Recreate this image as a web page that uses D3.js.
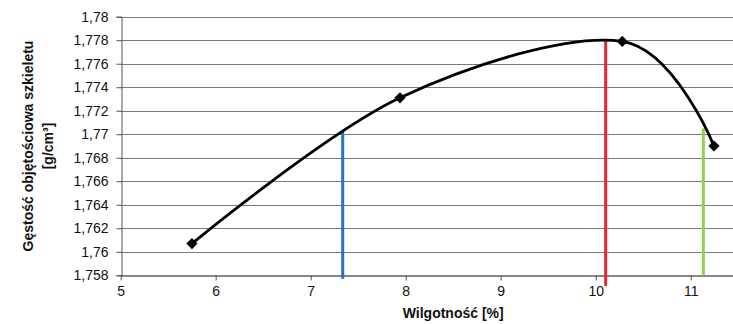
<!DOCTYPE html>
<html><head><meta charset="utf-8">
<script src="https://cdn.jsdelivr.net/npm/d3@7"></script>
<style>body{margin:0;background:#fff}svg{display:block}text{font-family:"Liberation Sans",Arial,sans-serif}</style>
</head><body>
<svg id="c" width="733" height="324"></svg>
<script>
// data
const moisture = [5.75, 7.94, 10.28, 11.245];
const density = [1.7607, 1.7731, 1.7779, 1.7690];
const xTicks = [5, 6, 7, 8, 9, 10, 11];
const yTicks = [1.758, 1.76, 1.762, 1.764, 1.766, 1.768, 1.77, 1.772, 1.774, 1.776, 1.778, 1.78];
const markerLines = [
  {name: "blue", x: 7.337, y0: 1.7577, y1: 1.7702, color: "#2a72c0"},
  {name: "red", x: 10.105, y0: 1.7571, y1: 1.7780, color: "#e8252d"},
  {name: "green", x: 11.133, y0: 1.75797, y1: 1.7705, color: "#92d050"}
];
const xTitle = "Wilgotność [%]";
const yTitle = ["Gęstość objętościowa szkieletu", "[g/cm³]"];

const W = 733, H = 324;
const svg = d3.select("#c");
// plot area extends beyond the cropped right edge (x axis runs to 12)
const x = d3.scaleLinear().domain([5, 12]).range([120.7, 785.7]);
const y = d3.scaleLinear().domain([1.758, 1.78]).range([275.3, 16.7]);
const fmt = v => d3.format("")(+v.toFixed(3)).replace(".", ",");
const FONT = '"Liberation Sans",Arial,sans-serif';

// gridlines
svg.append("g").selectAll("line").data(yTicks.slice(1)).join("line")
  .attr("x1", x(5)).attr("x2", x(12))
  .attr("y1", d => Math.round(y(d)) + 0.5).attr("y2", d => Math.round(y(d)) + 0.5)
  .attr("stroke", "#7a7a7a").attr("stroke-width", 1);

// y axis
const yAxis = svg.append("g").attr("transform", `translate(${Math.round(x(5)) + 0.5},0)`)
  .call(d3.axisLeft(y).tickValues(yTicks).tickFormat(fmt).tickSize(5).tickPadding(8));
yAxis.select(".domain").attr("stroke", "#555");
yAxis.selectAll(".tick line").attr("stroke", "#555");
yAxis.selectAll("text").attr("font-size", 14).attr("fill", "#111").style("font-family", FONT);

// x axis
const xAxis = svg.append("g").attr("transform", `translate(0,${Math.round(y(1.758)) + 0.5})`)
  .call(d3.axisBottom(x).tickValues(xTicks).tickFormat(d => d).tickSize(5).tickPadding(6).tickSizeOuter(0));
xAxis.select(".domain").attr("stroke", "#111");
xAxis.selectAll(".tick line").attr("stroke", "#555");
xAxis.selectAll("text").attr("font-size", 14).attr("fill", "#111").style("font-family", FONT);

// vertical marker lines
svg.append("g").selectAll("line").data(markerLines).join("line")
  .attr("x1", d => x(d.x)).attr("x2", d => x(d.x))
  .attr("y1", d => y(d.y0)).attr("y2", d => y(d.y1))
  .attr("stroke", d => d.color).attr("stroke-width", 3);

// smoothed curve
const pts = moisture.map((m, i) => [m, density[i]]);
svg.append("path").datum(pts)
  .attr("d", d3.line().x(d => x(d[0])).y(d => y(d[1])).curve(d3.curveCatmullRom.alpha(0)))
  .attr("fill", "none").attr("stroke", "#000").attr("stroke-width", 2.8);

// markers
svg.append("g").selectAll("path").data(pts).join("path")
  .attr("transform", d => `translate(${x(d[0])},${y(d[1])})`)
  .attr("d", d3.symbol(d3.symbolDiamond2, 80)())
  .attr("fill", "#000");

// titles
svg.append("text").attr("x", (x(5) + x(12)) / 2).attr("y", 318).attr("text-anchor", "middle")
  .attr("font-size", 14).attr("font-weight", "bold").attr("fill", "#111").text(xTitle);
const yt = svg.append("text").attr("transform", `translate(0,${(y(1.758) + y(1.78)) / 2}) rotate(-90)`)
  .attr("text-anchor", "middle").attr("font-size", 14).attr("font-weight", "bold").attr("fill", "#111");
yt.append("tspan").attr("x", 0).attr("y", 33).text(yTitle[0]);
yt.append("tspan").attr("x", 0).attr("y", 53).text(yTitle[1]);
</script>
</body></html>
